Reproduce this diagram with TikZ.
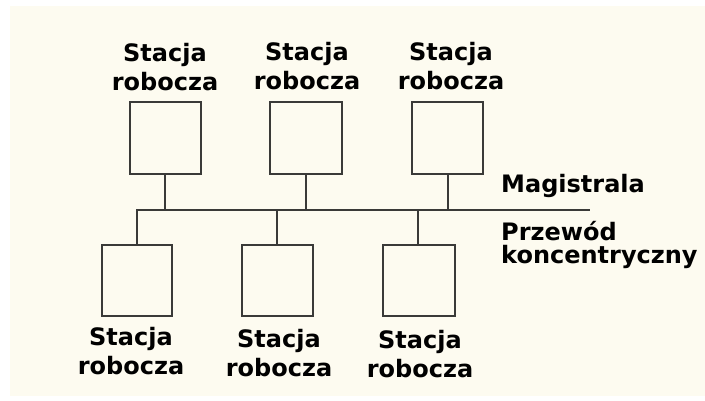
\documentclass[tikz,border=0pt]{standalone}
\usepackage{fontspec}
\newfontfamily\lblfont{DejaVu Sans}
\definecolor{paper}{RGB}{253,251,240}
\definecolor{ink}{RGB}{58,58,56}
\tikzset{
  station/.style={draw=ink, line width=2pt},
  wire/.style={draw=ink, line width=2pt},
  % multi-line labels: the base anchor sits on the last line
  lbl/.style={font=\lblfont\bfseries\fontsize{24}{29}\selectfont, text=black,
              align=center, inner sep=0pt, anchor=base},
  side/.style={font=\lblfont\bfseries\fontsize{24}{24}\selectfont, text=black,
               align=left, inner sep=0pt, anchor=base west},
}
\begin{document}
\begin{tikzpicture}[x=1pt, y=-1pt]
  \useasboundingbox (0,0) rectangle (705,401);
  \fill[white] (0,0) rectangle (705,401);
  \fill[paper] (10,6) rectangle (705,396);

  % upper row of workstations
  \path[station] (130,102) rectangle (201,174);
  \path[station] (270,102) rectangle (342,174);
  \path[station] (412,102) rectangle (483,174);
  \coordinate (t1) at (165,174);
  \coordinate (t2) at (306,174);
  \coordinate (t3) at (448,174);

  % lower row of workstations
  \path[station] (102,245) rectangle (172,316);
  \path[station] (242,245) rectangle (313,316);
  \path[station] (383,245) rectangle (455,316);
  \coordinate (b1) at (137,245);
  \coordinate (b2) at (277,245);
  \coordinate (b3) at (418,245);

  % the bus and its taps
  \coordinate (busL) at (137,210);
  \coordinate (busR) at (590,210);
  \draw[wire] (b1) -- (busL) -- (busR);
  \draw[wire] (t1) -- (t1 |- busL);
  \draw[wire] (t2) -- (t2 |- busL);
  \draw[wire] (t3) -- (t3 |- busL);
  \draw[wire] (b2) -- (b2 |- busL);
  \draw[wire] (b3) -- (b3 |- busL);

  % labels of the upper stations
  \node[lbl] (lt1) at (165,91) {Stacja\\robocza};
  \node[lbl] (lt2) at (307,90) {Stacja\\robocza};
  \node[lbl] (lt3) at (451,90) {Stacja\\robocza};

  % labels of the lower stations
  \node[lbl] (lb1) at (131,374) {Stacja\\robocza};
  \node[lbl] (lb2) at (279,376) {Stacja\\robocza};
  \node[lbl] (lb3) at (420,377) {Stacja\\robocza};

  % bus labels
  \node[side] (mag) at (501,193) {Magistrala};
  \node[side] (coax) at (501,264) {Przewód\\koncentryczny};
\end{tikzpicture}
\end{document}
